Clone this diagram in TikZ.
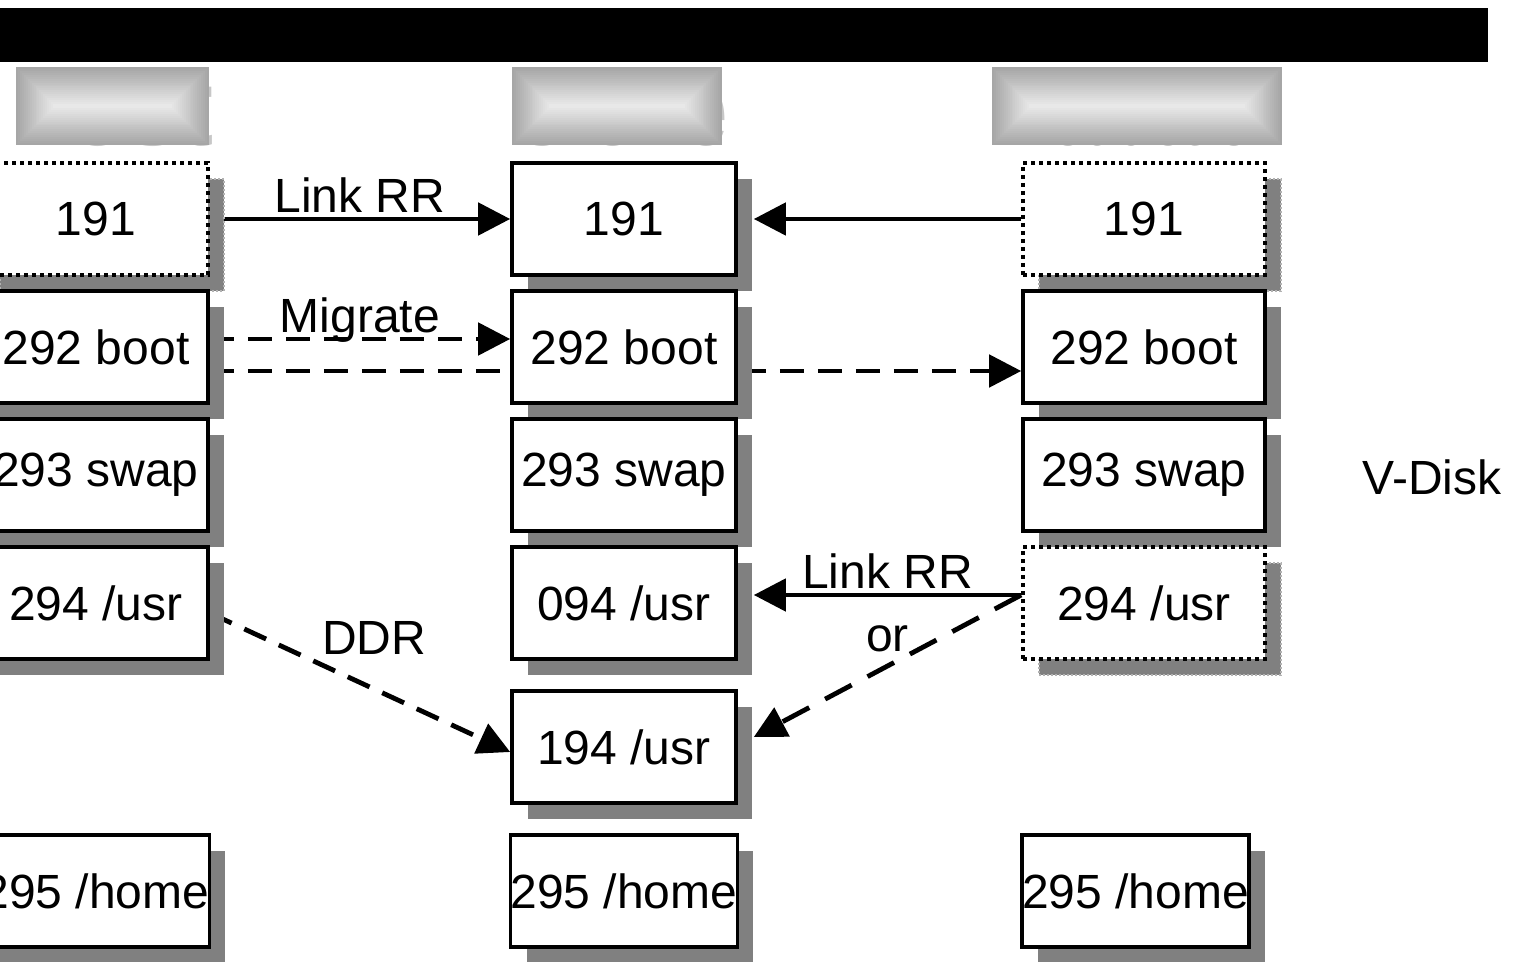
\documentclass[tikz,border=0pt]{standalone}
\usepackage{fontspec}
\setmainfont{Liberation Sans}
\usepackage{graphicx}
\usetikzlibrary{arrows.meta,shadows}
\pgfdeclarelayer{background}
\pgfsetlayers{background,main}

\begin{document}
\begin{tikzpicture}[x=0.5pt,y=-0.5pt,
  font=\fontsize{24}{28}\selectfont,
  diskbase/.style={draw,line width=1.8pt,fill=white,inner sep=0pt,minimum width=112pt,minimum height=56pt},
  disk/.style={diskbase,drop shadow={shadow xshift=8pt,shadow yshift=-8pt,fill=black!50,opacity=1}},
  ghost/.style={diskbase,dash pattern=on 2pt off 2pt,
    drop shadow={shadow xshift=8pt,shadow yshift=-8pt,fill=black!50,draw=black!30,line width=1pt,dash pattern=on 1pt off 1pt,opacity=1}},
  wide/.style={minimum width=121pt},
  headtxt/.style={text=black!22,inner sep=0pt},
  lbl/.style={inner sep=0pt},
  link/.style={line width=2.4pt,-{Triangle[length=16pt,width=16pt]}},
  mig/.style={link,dash pattern=on 12pt off 7pt},
  alt/.style={link,dash pattern=on 15pt off 9pt}]
\useasboundingbox (0,0) rectangle (1524,962);

% title bar
\fill[black] (0,8) rectangle (1488,62);

% column headings, hidden behind the shaded plates
\foreach \bx/\bw/\txt/\tw in {16/193/Test/98.5,512/210/Clone/107.5,992/290/Production/146.5}{
	\node[headtxt,anchor=base west] (h\txt) at (\bx,146) {\resizebox{\tw pt}{38pt}{\bfseries\txt}};
	\foreach \i in {0,1,...,19}{
		\pgfmathsetmacro{\d}{\i*39/20}
		\pgfmathsetmacro{\c}{35-\i*26/19}
		\fill[black!\c] (\bx+\d,67+\d) rectangle (\bx+\bw-\d,145-\d);
	}
}

% Test
\node[ghost] (c1r1) at (96,219) {191};
\node[disk] (c1r2) at (96,347) {292 boot};
\node[disk] (c1r3) at (96,475) {293 swap};
\node[disk] (c1r4) at (96,603) {294 /usr};
\node[disk] (c1r6) at (96,891) {295 /home};

% Clone
\node[disk] (c2r1) at (624,219) {191};
\node[disk] (c2r2) at (624,347) {292 boot};
\node[disk] (c2r3) at (624,475) {293 swap};
\node[disk] (c2r4) at (624,603) {094 /usr};
\node[disk] (c2r5) at (624,747) {194 /usr};
\node[disk] (c2r6) at (624,891) {295 /home};

% Production
\node[ghost,wide] (c3r1) at (1144,219) {191};
\node[disk,wide] (c3r2) at (1144,347) {292 boot};
\node[disk,wide] (c3r3) at (1144,475) {293 swap};
\node[ghost,wide] (c3r4) at (1144,603) {294 /usr};
\node[disk] (c3r6) at (1135.5,891) {295 /home};

\node (vdisk) at (1432,477) {V-Disk};

\begin{pgfonlayer}{background}
\draw[link] (c1r1.east) -- node[lbl,above=2pt] {Link RR} (c2r1.west);
\draw[link] (c3r1.west) -- ([xshift=8pt]c2r1.east);
\draw[mig] ([yshift=4pt]c1r2.east) -- node[lbl,anchor=base,yshift=3pt] {Migrate} ([yshift=4pt]c2r2.west);
\draw[mig] ([yshift=-12pt]c1r2.east) -- ([yshift=-12pt]c3r2.west);
\draw[link] ([yshift=4pt]c3r4.west) -- node[lbl,above=2pt] {Link RR} ([xshift=8pt,yshift=4pt]c2r4.east);
\draw[alt] ([yshift=4pt]c3r4.west) -- node[lbl,above=6pt] {or} ([xshift=8pt,yshift=5pt]c2r5.east);
\draw[mig] ([yshift=-5pt]c1r4.east) -- node[lbl,above=13pt,xshift=7pt] {DDR} ([yshift=-2.5pt]c2r5.west);
\end{pgfonlayer}
\end{tikzpicture}
\end{document}
